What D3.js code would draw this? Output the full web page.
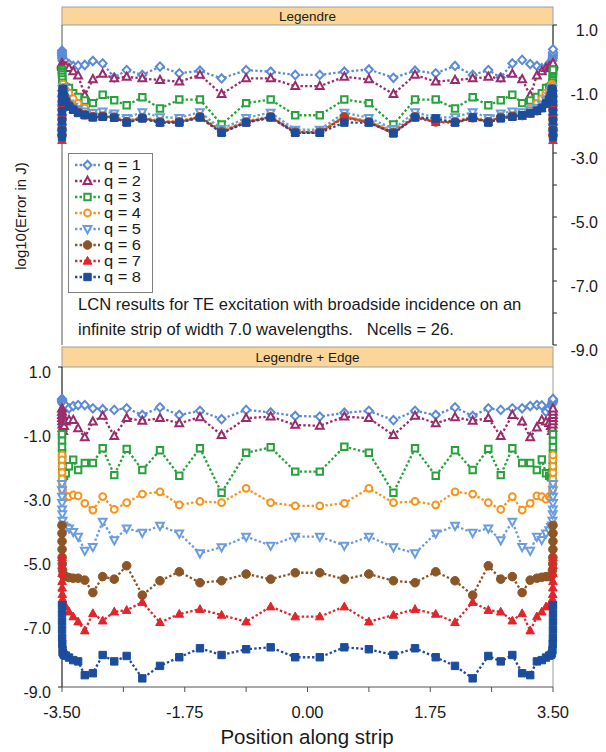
<!DOCTYPE html>
<html>
<head>
<meta charset="utf-8">
<script src="https://cdn.jsdelivr.net/npm/d3@7"></script>
<style>
  html, body { margin: 0; padding: 0; background: #ffffff; }
  svg text { font-family: "Liberation Sans", Arial, sans-serif; fill: #1a1a1a; }
</style>
</head>
<body>
<svg id="chart" width="606" height="752"></svg>
<script>
// Sample positions along the strip (wavelengths), dense toward both edges
const xPos = [
  -3.5, -3.4999, -3.4995, -3.499, -3.498, -3.496, -3.492, -3.485, -3.47, -3.445,
  -3.40, -3.34, -3.27, -3.175, -3.06, -2.92, -2.755, -2.578, -2.355, -2.103,
  -1.828, -1.533, -1.225, -0.875, -0.525, -0.175,
  0.175, 0.525, 0.875, 1.225, 1.533, 1.828, 2.103, 2.355, 2.578, 2.755,
  2.92, 3.06, 3.175, 3.27, 3.34, 3.40, 3.445, 3.47, 3.485, 3.492,
  3.496, 3.498, 3.499, 3.4995, 3.4999, 3.5
];

const seriesNames = ["q = 1", "q = 2", "q = 3", "q = 4", "q = 5", "q = 6", "q = 7", "q = 8"];

// log10 error, Legendre basis
const legendreQ1 = [0.2, 0.15, 0.1, 0.05, 0.0, -0.05, -0.1, -0.13, -0.15, -0.15, -0.22, -0.28, -0.27, -0.25, -0.125, -0.2, -0.64, -0.41, -0.56, -0.3, -0.51, -0.43, -0.67, -0.41, -0.46, -0.56,
  -0.56, -0.46, -0.39, -0.65, -0.43, -0.51, -0.28, -0.56, -0.41, -0.64, -0.2, -0.09, -0.22, -0.28, -0.35, -0.35, -0.2, -0.15, -0.13, -0.1, -0.05, 0.0, 0.05, 0.1, 0.15, 0.24];
const legendreQ2 = [-0.2, -0.22, -0.24, -0.26, -0.28, -0.3, -0.3, -0.3, -0.3, -0.3, -0.35, -0.45, -0.58, -1.2, -0.7, -0.53, -0.67, -0.62, -0.67, -0.72, -0.77, -0.56, -1.16, -0.67, -0.67, -0.91,
  -0.91, -0.62, -0.7, -1.16, -0.56, -0.77, -0.72, -0.67, -0.62, -0.67, -0.53, -0.7, -1.2, -0.58, -0.45, -0.35, -0.3, -0.3, -0.3, -0.3, -0.3, -0.28, -0.26, -0.24, -0.22, -0.2];
const legendreQ3 = [-0.4, -0.45, -0.5, -0.55, -0.62, -0.7, -0.8, -0.88, -0.92, -0.95, -0.97, -1.13, -1.25, -1.36, -1.44, -1.18, -1.35, -1.51, -1.26, -1.61, -1.33, -1.33, -2.11, -1.44, -1.33, -1.82,
  -1.82, -1.33, -1.44, -2.11, -1.33, -1.33, -1.61, -1.26, -1.51, -1.35, -1.18, -1.44, -1.36, -1.25, -1.13, -0.97, -0.95, -0.92, -0.88, -0.8, -0.7, -0.62, -0.55, -0.5, -0.45, -0.4];
const legendreQ4 = [-2.3, -2.1, -1.8, -1.5, -1.25, -1.05, -0.9, -0.85, -0.95, -1.05, -1.13, -1.3, -1.45, -1.6, -1.75, -1.8, -1.86, -2.0, -1.86, -2.0, -2.0, -1.84, -2.3, -2.0, -1.85, -2.3,
  -2.3, -1.85, -2.0, -2.3, -1.84, -2.0, -2.0, -1.86, -2.0, -1.86, -1.8, -1.75, -1.6, -1.45, -1.3, -1.13, -1.05, -0.95, -0.85, -0.9, -1.05, -1.25, -1.5, -1.8, -2.1, -2.3];
const legendreQ5 = [-2.4, -2.2, -1.9, -1.6, -1.35, -1.15, -1.0, -0.95, -1.15, -1.3, -1.45, -1.55, -1.63, -1.7, -1.75, -1.7, -1.76, -1.9, -1.72, -1.88, -1.9, -1.72, -2.25, -1.9, -1.74, -2.27,
  -2.27, -1.74, -1.9, -2.25, -1.72, -1.9, -1.88, -1.72, -1.9, -1.76, -1.7, -1.72, -1.66, -1.58, -1.48, -1.35, -1.22, -1.08, -0.95, -1.0, -1.15, -1.35, -1.6, -1.9, -2.2, -2.4];
const legendreQ6 = [-2.45, -2.25, -1.95, -1.65, -1.4, -1.2, -1.05, -1.0, -1.2, -1.35, -1.5, -1.62, -1.72, -1.8, -1.86, -1.85, -1.88, -2.02, -1.9, -2.03, -2.03, -1.87, -2.33, -2.03, -1.87, -2.35,
  -2.35, -1.87, -2.03, -2.35, -1.87, -2.03, -2.03, -1.9, -2.02, -1.88, -1.85, -1.83, -1.76, -1.68, -1.58, -1.45, -1.32, -1.18, -1.0, -1.05, -1.2, -1.4, -1.65, -1.95, -2.25, -2.45];
const legendreQ7 = [-2.6, -2.35, -2.05, -1.75, -1.45, -1.25, -1.1, -1.05, -1.22, -1.38, -1.52, -1.64, -1.74, -1.82, -1.88, -1.87, -1.9, -2.04, -1.92, -2.05, -2.04, -1.89, -2.36, -2.05, -1.89, -2.37,
  -2.37, -1.89, -2.05, -2.38, -1.89, -2.04, -2.05, -1.92, -2.04, -1.9, -1.87, -1.85, -1.78, -1.7, -1.6, -1.47, -1.33, -1.2, -1.05, -1.1, -1.25, -1.45, -1.75, -2.05, -2.35, -2.6];
const legendreQ8 = [-2.5, -2.3, -2.0, -1.7, -1.4, -1.2, -1.05, -1.0, -1.25, -1.4, -1.55, -1.65, -1.75, -1.82, -1.89, -1.87, -1.9, -2.05, -1.92, -2.05, -2.05, -1.89, -2.37, -2.05, -1.89, -2.37,
  -2.37, -2.05, -2.05, -2.39, -1.89, -1.92, -2.05, -1.89, -2.05, -1.92, -1.87, -1.82, -1.75, -1.68, -1.6, -1.45, -1.33, -1.2, -1.0, -1.05, -1.2, -1.4, -1.7, -2.0, -2.3, -2.5];

// log10 error, Legendre basis with edge functions
const edgeQ1 = [0.0, -0.02, -0.04, -0.06, -0.08, -0.1, -0.13, -0.16, -0.18, -0.22, -0.29, -0.22, -0.19, -0.19, -0.29, -0.32, -0.34, -0.29, -0.5, -0.26, -0.5, -0.37, -0.63, -0.34, -0.42, -0.53,
  -0.55, -0.43, -0.37, -0.66, -0.37, -0.5, -0.26, -0.53, -0.29, -0.34, -0.29, -0.29, -0.22, -0.19, -0.2, -0.4, -0.3, -0.2, -0.16, -0.13, -0.1, -0.08, -0.06, -0.04, -0.02, 0.0];
const edgeQ2 = [-0.3, -0.4, -0.5, -0.6, -0.7, -0.8, -0.9, -1.0, -0.85, -0.71, -0.66, -0.66, -0.92, -1.2, -0.71, -0.53, -1.16, -0.6, -0.68, -0.6, -0.76, -0.57, -1.13, -0.6, -0.55, -0.81,
  -0.84, -0.55, -0.6, -1.13, -0.53, -0.76, -0.57, -0.68, -0.6, -1.16, -0.5, -0.71, -1.2, -0.89, -0.66, -0.71, -0.75, -0.85, -1.0, -0.9, -0.8, -0.7, -0.6, -0.5, -0.4, -0.3];
const edgeQ3 = [-1.1, -1.3, -1.5, -1.7, -1.9, -2.1, -2.3, -2.4, -2.4, -2.32, -2.1, -1.9, -2.22, -2.0, -2.0, -1.54, -2.38, -1.56, -2.22, -1.6, -2.4, -1.54, -2.93, -1.68, -1.51, -2.27,
  -2.27, -1.49, -1.68, -2.93, -1.54, -2.4, -1.6, -2.22, -1.56, -2.38, -1.54, -2.0, -2.0, -2.22, -1.89, -2.32, -2.4, -2.45, -2.4, -2.3, -2.1, -1.9, -1.7, -1.5, -1.3, -1.1];
const edgeQ4 = [-1.75, -1.9, -2.1, -2.3, -2.5, -2.7, -2.85, -3.0, -3.1, -3.05, -3.05, -3.0, -3.03, -3.26, -3.47, -3.05, -3.45, -3.24, -2.97, -2.9, -3.31, -3.2, -3.24, -2.79, -3.24, -3.34,
  -3.34, -3.26, -2.79, -3.24, -3.2, -3.31, -2.9, -2.97, -3.24, -3.45, -3.05, -3.47, -3.26, -3.03, -3.05, -3.13, -3.05, -3.1, -3.0, -2.85, -2.7, -2.5, -2.3, -2.1, -1.9, -1.75];
const edgeQ5 = [-2.65, -2.85, -3.05, -3.25, -3.45, -3.6, -3.8, -3.95, -4.0, -4.02, -4.04, -4.15, -4.3, -4.74, -4.62, -3.83, -4.41, -4.04, -4.18, -3.96, -4.2, -4.82, -4.63, -4.3, -4.58, -4.3,
  -4.3, -4.58, -4.3, -4.63, -4.82, -4.2, -3.96, -4.18, -4.04, -4.41, -3.83, -4.62, -4.74, -4.3, -4.4, -4.2, -4.1, -4.0, -3.95, -3.8, -3.6, -3.45, -3.25, -3.05, -2.85, -2.65];
const edgeQ6 = [-3.95, -4.2, -4.45, -4.7, -4.95, -5.15, -5.35, -5.5, -5.53, -5.55, -5.58, -5.6, -5.6, -5.66, -6.05, -5.55, -5.63, -5.21, -6.13, -5.68, -5.4, -5.74, -5.68, -5.47, -5.63, -5.43,
  -5.43, -5.63, -5.47, -5.68, -5.74, -5.4, -5.68, -6.13, -5.21, -5.63, -5.55, -6.05, -5.66, -5.6, -5.57, -5.55, -5.55, -5.53, -5.5, -5.35, -5.15, -4.95, -4.7, -4.45, -4.2, -3.95];
const edgeQ7 = [-4.95, -5.2, -5.45, -5.7, -5.9, -6.1, -6.25, -6.38, -6.45, -6.49, -6.65, -6.8, -6.96, -7.24, -6.7, -6.93, -6.65, -6.6, -6.35, -6.98, -6.72, -6.57, -6.75, -6.96, -6.49, -6.8,
  -6.8, -6.49, -6.96, -6.75, -6.57, -6.72, -6.98, -6.35, -6.6, -6.65, -6.93, -6.7, -7.24, -6.8, -6.65, -6.49, -6.45, -6.42, -6.38, -6.25, -6.1, -5.9, -5.7, -5.45, -5.2, -4.95];
const edgeQ8 = [-6.45, -6.7, -6.95, -7.2, -7.45, -7.65, -7.85, -7.95, -8.0, -8.02, -8.08, -8.16, -8.2, -8.63, -8.57, -8.0, -8.2, -8.03, -8.73, -8.34, -8.07, -7.79, -8.0, -7.82, -7.76, -8.07,
  -8.07, -7.76, -7.82, -8.0, -7.79, -8.07, -8.34, -8.73, -8.03, -8.2, -8.0, -8.57, -8.63, -8.2, -8.16, -8.08, -8.02, -8.0, -7.95, -7.85, -7.65, -7.45, -7.2, -6.95, -6.7, -6.45];

const yTickValues = [1, -1, -3, -5, -7, -9];
const yTickLabels = ["1.0", "-1.0", "-3.0", "-5.0", "-7.0", "-9.0"];
const yMinorTicks = [1, 0, -1, -2, -3, -4, -5, -6, -7, -8, -9];
const xTickValues = [-3.5, -1.75, 0, 1.75, 3.5];
const xTickLabels = ["-3.50", "-1.75", "0.00", "1.75", "3.50"];
const xMinorTicks = [-3.5, -2.625, -1.75, -0.875, 0, 0.875, 1.75, 2.625, 3.5];

const legendreSeries = [legendreQ1, legendreQ2, legendreQ3, legendreQ4, legendreQ5, legendreQ6, legendreQ7, legendreQ8];
const edgeSeries = [edgeQ1, edgeQ2, edgeQ3, edgeQ4, edgeQ5, edgeQ6, edgeQ7, edgeQ8];

const colors = ["#5b8bd8", "#9b2c6c", "#27a23c", "#f7941d", "#6a9ce0", "#8c5526", "#e2252b", "#1c4d9d"];
const shapes = ["diamond", "triangle", "square", "circle", "triangleDown", "circle", "triangle", "square"];
const filled = [false, false, false, false, false, true, true, true];

const svg = d3.select("#chart");
const x = d3.scaleLinear().domain([-3.5, 3.5]).range([62, 553]);
const yTop = d3.scaleLinear().domain([-9, 1]).range([345, 25]);
const yBot = d3.scaleLinear().domain([-9, 1]).range([687, 367]);

function markerPath(shape, solid) {
  if (solid) {
    switch (shape) {
      case "triangle": return "M0,-4.6L4.3,3.2L-4.3,3.2Z";
      case "square": return "M-3.7,-3.7H3.7V3.7H-3.7Z";
      default: return d3.symbol().type(d3.symbolCircle).size(58)();
    }
  }
  switch (shape) {
    case "diamond": return "M0,-4.2L4,0L0,4.2L-4,0Z";
    case "triangle": return "M0,-4.3L3.9,2.9L-3.9,2.9Z";
    case "triangleDown": return "M0,4.3L3.9,-2.9L-3.9,-2.9Z";
    case "square": return "M-3.2,-3.2H3.2V3.2H-3.2Z";
    default: return d3.symbol().type(d3.symbolCircle).size(36)();
  }
}

function drawMarkers(g, pts, i) {
  g.selectAll(null).data(pts).join("path")
    .attr("transform", d => `translate(${d[0]},${d[1]})`)
    .attr("d", markerPath(shapes[i], filled[i]))
    .attr("fill", filled[i] ? colors[i] : "#ffffff")
    .attr("stroke", colors[i])
    .attr("stroke-width", filled[i] ? 1 : 2);
}

function drawSeries(g, yScale, seriesList) {
  const line = d3.line().x(d => x(d[0])).y(d => yScale(d[1]));
  seriesList.forEach((vals, i) => {
    const data = vals.map((v, k) => [xPos[k], v]);
    const sg = g.append("g");
    sg.append("path").datum(data)
      .attr("d", line)
      .attr("fill", "none")
      .attr("stroke", colors[i])
      .attr("stroke-width", 2.3)
      .attr("stroke-dasharray", "2.4,2.2");
    drawMarkers(sg, data.map(d => [x(d[0]), yScale(d[1])]), i);
  });
}

function drawStrip(yTopPx, h, label) {
  svg.append("rect")
    .attr("x", 62).attr("y", yTopPx).attr("width", 491).attr("height", h)
    .attr("fill", "#fbd698").attr("stroke", "#a0a0a0").attr("stroke-width", 1);
  svg.append("text")
    .attr("x", 307.5).attr("y", yTopPx + h / 2 + 4.8)
    .attr("text-anchor", "middle").attr("font-size", 13.5)
    .text(label);
}

// ---- upper panel: Legendre ----
drawStrip(7, 18, "Legendre");
svg.append("line").attr("x1", 62).attr("x2", 62).attr("y1", 25).attr("y2", 345)
  .attr("stroke", "#555").attr("stroke-width", 1);
svg.append("line").attr("x1", 553).attr("x2", 553).attr("y1", 25).attr("y2", 345)
  .attr("stroke", "#222").attr("stroke-width", 1.2);
svg.append("g").selectAll("line").data(yMinorTicks).join("line")
  .attr("x1", 553).attr("x2", 557).attr("y1", d => yTop(d)).attr("y2", d => yTop(d))
  .attr("stroke", "#222");
svg.append("g").selectAll("text").data(yTickValues).join("text")
  .attr("x", 598).attr("y", d => yTop(d) + 11)
  .attr("text-anchor", "end").attr("font-size", 16)
  .text((d, i) => yTickLabels[i]);

const topG = svg.append("g");
drawSeries(topG, yTop, legendreSeries);

// legend
const lg = svg.append("g");
lg.append("rect").attr("x", 68.5).attr("y", 153.5).attr("width", 84).attr("height", 139)
  .attr("fill", "#ffffff").attr("stroke", "#808080").attr("stroke-width", 1);
seriesNames.forEach((name, i) => {
  const cy = 165 + i * 16;
  lg.append("line").attr("x1", 75).attr("x2", 100).attr("y1", cy).attr("y2", cy)
    .attr("stroke", colors[i]).attr("stroke-width", 2.3).attr("stroke-dasharray", "2.4,2.2");
  drawMarkers(lg, [[87.5, cy]], i);
  lg.append("text").attr("x", 104).attr("y", cy + 5)
    .attr("font-size", 13.8)
    .attr("textLength", 37).attr("lengthAdjust", "spacingAndGlyphs")
    .text(name);
});

svg.append("text").attr("x", 78).attr("y", 310).attr("font-size", 16.6)
  .text("LCN results for TE excitation with broadside incidence on an");
svg.append("text").attr("x", 78).attr("y", 335).attr("font-size", 16.6)
  .style("white-space", "pre")
  .text("infinite strip of width 7.0 wavelengths.   Ncells = 26.");

// ---- lower panel: Legendre + Edge ----
drawStrip(347, 20, "Legendre + Edge");
svg.append("line").attr("x1", 553).attr("x2", 553).attr("y1", 367).attr("y2", 687)
  .attr("stroke", "#9a9a9a").attr("stroke-width", 1);
svg.append("line").attr("x1", 62).attr("x2", 62).attr("y1", 367).attr("y2", 687)
  .attr("stroke", "#222").attr("stroke-width", 1.2);
svg.append("line").attr("x1", 62).attr("x2", 553).attr("y1", 687).attr("y2", 687)
  .attr("stroke", "#555").attr("stroke-width", 1.2);
svg.append("g").selectAll("line").data(yMinorTicks).join("line")
  .attr("x1", 58).attr("x2", 62).attr("y1", d => yBot(d)).attr("y2", d => yBot(d))
  .attr("stroke", "#222");
svg.append("g").selectAll("text").data(yTickValues).join("text")
  .attr("x", 51).attr("y", d => yBot(d) + 11)
  .attr("text-anchor", "end").attr("font-size", 16)
  .text((d, i) => yTickLabels[i]);
svg.append("g").selectAll("line").data(xMinorTicks).join("line")
  .attr("x1", d => x(d)).attr("x2", d => x(d)).attr("y1", 687).attr("y2", 692)
  .attr("stroke", "#555");
svg.append("g").selectAll("text").data(xTickValues).join("text")
  .attr("x", d => x(d)).attr("y", 718)
  .attr("text-anchor", "middle").attr("font-size", 16.5)
  .text((d, i) => xTickLabels[i]);

const botG = svg.append("g");
drawSeries(botG, yBot, edgeSeries);

// axis titles
svg.append("text").attr("x", 307).attr("y", 744).attr("text-anchor", "middle")
  .attr("font-size", 20.5).text("Position along strip");
svg.append("text").attr("transform", "translate(26,216) rotate(-90)")
  .attr("text-anchor", "middle").attr("font-size", 15).text("log10(Error in J)");
</script>
</body>
</html>
